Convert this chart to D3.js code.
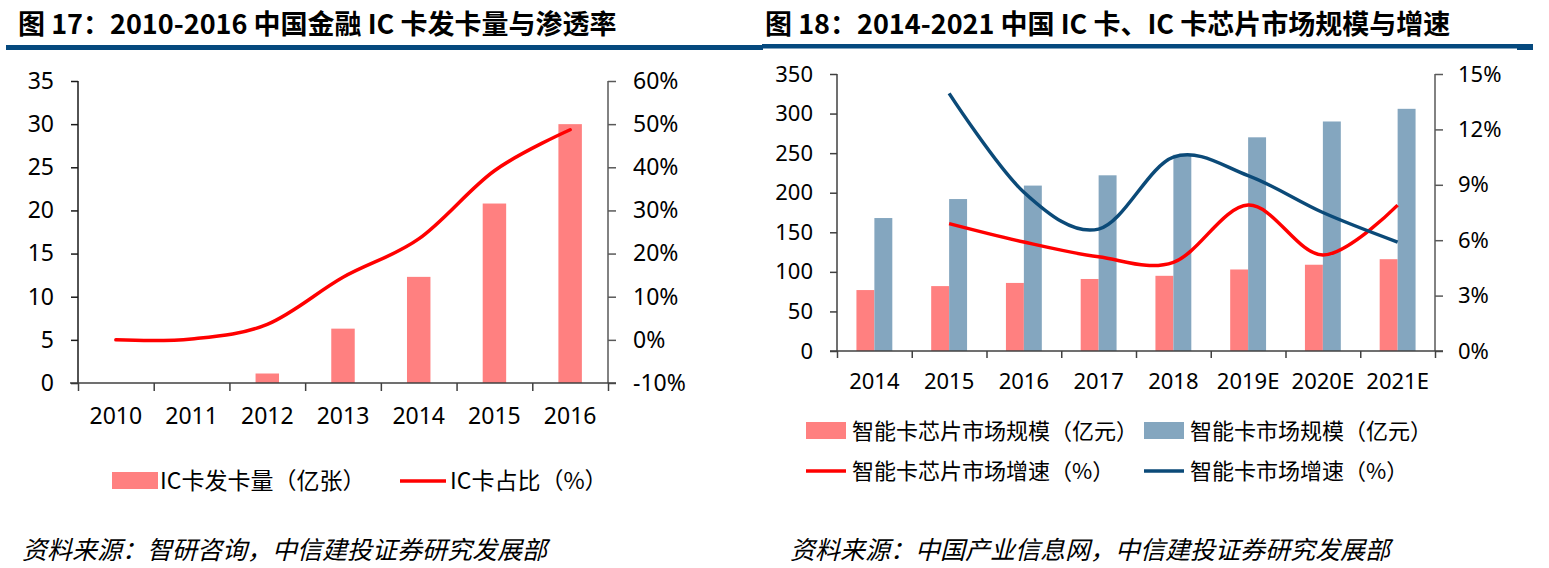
<!DOCTYPE html>
<html>
<head>
<meta charset="utf-8">
<script src="https://cdn.jsdelivr.net/npm/d3@7"></script>
<style>
  body { margin: 0; background: #fff; }
  text { font-family: "Noto Sans", "Noto Sans CJK SC", sans-serif; fill: #000; }
  .cjk { font-family: "Noto Sans CJK SC", sans-serif; }
</style>
</head>
<body>
<div id="chart"></div>
<script>
// Chart 17 data
const years1 = ["2010", "2011", "2012", "2013", "2014", "2015", "2016"];
const cardsIssued = [null, null, 1.1, 6.3, 12.3, 20.8, 30.0];   // 亿张
const icShare = [0, 0.2, 3.6, 14.5, 23.4, 39.2, 48.7];          // %

// Chart 18 data
const years2 = ["2014", "2015", "2016", "2017", "2018", "2019E", "2020E", "2021E"];
const chipMarket = [77, 82, 86, 91, 95, 103, 109, 116];          // 亿元
const cardMarket = [168, 192, 209, 222, 248, 270, 290, 306];     // 亿元
const chipGrowth = [null, 6.9, 5.9, 5.1, 4.8, 7.9, 5.2, 7.9];    // %
const cardGrowth = [null, 13.95, 8.6, 6.6, 10.5, 9.5, 7.5, 5.9]; // %

const leftTicks1 = [0, 5, 10, 15, 20, 25, 30, 35];
const rightTicks1 = [-10, 0, 10, 20, 30, 40, 50, 60];
const leftTicks2 = [0, 50, 100, 150, 200, 250, 300, 350];
const rightTicks2 = [0, 3, 6, 9, 12, 15];

const pink = "#ff8080";
const steel = "#84a6bf";
const red = "#ff0000";
const navy = "#0b4a78";
const ruleBlue = "#05497e";

const width = 1549;
const height = 568;

const svg = d3.select("#chart")
  .append("svg")
  .attr("width", width)
  .attr("height", height);

// Titles and rules
svg.append("text").attr("class", "cjk")
  .attr("x", 18).attr("y", 34)
  .style("font-size", "27px").style("font-weight", "bold")
  .text("图 17：2010-2016 中国金融 IC 卡发卡量与渗透率");
svg.append("text").attr("class", "cjk")
  .attr("x", 765).attr("y", 34)
  .style("font-size", "27px").style("font-weight", "bold")
  .text("图 18：2014-2021 中国 IC 卡、IC 卡芯片市场规模与增速");

svg.append("rect").attr("x", 6).attr("y", 45).attr("width", 757).attr("height", 5).attr("fill", ruleBlue);
svg.append("rect").attr("x", 762).attr("y", 44).attr("width", 771).attr("height", 4.5).attr("fill", ruleBlue);
svg.append("rect").attr("x", 1517).attr("y", 44).attr("width", 16).attr("height", 6).attr("fill", ruleBlue);

function styleAxis(g, color) {
  g.select(".domain").attr("stroke", color).attr("stroke-width", 1.5);
  g.selectAll(".tick line").attr("stroke", color).attr("stroke-width", 1.5);
  g.selectAll(".tick text").style("font-size", "22px").attr("fill", "#000");
}

// ---------- Chart 17 ----------
{
  const x0 = 78, x1 = 608, yTop = 81, yBot = 383;
  const x = d3.scaleBand().domain(years1).range([x0, x1]);
  const xi = d3.scaleLinear().domain([0, years1.length]).range([x0, x1]);
  const yL = d3.scaleLinear().domain([0, 35]).range([yBot, yTop]);
  const yR = d3.scaleLinear().domain([-10, 60]).range([yBot, yTop]);

  const g = svg.append("g");

  const barW = x.bandwidth() * 0.31;
  g.selectAll(".bar")
    .data(years1.map((y, i) => ({ y, v: cardsIssued[i] })).filter(d => d.v != null))
    .enter().append("rect")
    .attr("x", d => x(d.y) + (x.bandwidth() - barW) / 2)
    .attr("width", barW)
    .attr("y", d => yL(d.v))
    .attr("height", d => yBot - yL(d.v))
    .attr("fill", pink);

  const ax = g.append("g").attr("transform", `translate(${x0},0)`)
    .call(d3.axisLeft(yL).tickValues(leftTicks1).tickSize(7).tickPadding(17));
  styleAxis(ax, "#1a1a1a");
  ax.selectAll(".tick text").style("font-size", "23px");
  ax.select(".domain").attr("d", `M0,${yTop}V${yBot}`);

  const axR = g.append("g").attr("transform", `translate(${x1},0)`)
    .call(d3.axisRight(yR).tickValues(rightTicks1).tickSize(8).tickPadding(17).tickFormat(d => d + "%"));
  styleAxis(axR, "#595959");
  axR.selectAll(".tick text").style("font-size", "23px");
  axR.select(".domain").attr("d", `M0,${yTop}V${yBot}`);

  const axB = g.append("g").attr("transform", `translate(0,${yBot})`)
    .call(d3.axisBottom(xi).ticks(years1.length).tickSize(8).tickFormat(""));
  styleAxis(axB, "#404040");
  axB.select(".domain").attr("d", `M${x0 - 8},0H${x1 + 8}`);

  const axL = g.append("g").attr("transform", `translate(0,${yBot})`)
    .call(d3.axisBottom(x).tickSize(0).tickPadding(25));
  axL.select(".domain").remove();
  axL.selectAll(".tick text").style("font-size", "23px").attr("fill", "#000");

  const line = d3.line()
    .defined(d => d.v != null)
    .x(d => x(d.y) + x.bandwidth() / 2)
    .y(d => yR(d.v))
    .curve(d3.curveCardinal.tension(0));
  g.append("path")
    .datum(years1.map((y, i) => ({ y, v: icShare[i] })))
    .attr("d", line)
    .attr("fill", "none").attr("stroke", red)
    .attr("stroke-width", 3.5).attr("stroke-linecap", "round");

  // legend
  svg.append("rect").attr("x", 112).attr("y", 472).attr("width", 46).attr("height", 17).attr("fill", pink);
  svg.append("text").attr("class", "cjk").attr("x", 160).attr("y", 489).style("font-size", "23px").text("IC卡发卡量（亿张）");
  svg.append("line").attr("x1", 400).attr("x2", 446).attr("y1", 481).attr("y2", 481).attr("stroke", red).attr("stroke-width", 3.5);
  svg.append("text").attr("class", "cjk").attr("x", 450).attr("y", 489).style("font-size", "23px").text("IC卡占比（%）");

  svg.append("text").attr("class", "cjk").attr("x", 22).attr("y", 559)
    .style("font-size", "25px").style("font-style", "italic").attr("fill", "#333")
    .text("资料来源：智研咨询，中信建投证券研究发展部");
}

// ---------- Chart 18 ----------
{
  const x0 = 837, x1 = 1435, yTop = 74, yBot = 351;
  const x = d3.scaleBand().domain(years2).range([x0, x1]);
  const xi = d3.scaleLinear().domain([0, years2.length]).range([x0, x1]);
  const yL = d3.scaleLinear().domain([0, 350]).range([yBot, yTop]);
  const yR = d3.scaleLinear().domain([0, 15]).range([yBot, yTop]);

  const g = svg.append("g");

  const pairW = x.bandwidth() * 0.48;
  const inner = d3.scaleBand().domain(["chip", "card"]).range([0, pairW]);
  const off = (x.bandwidth() - pairW) / 2;

  g.selectAll(".chip")
    .data(years2.map((y, i) => ({ y, v: chipMarket[i] })))
    .enter().append("rect")
    .attr("x", d => x(d.y) + off + inner("chip"))
    .attr("width", inner.bandwidth())
    .attr("y", d => yL(d.v))
    .attr("height", d => yBot - yL(d.v))
    .attr("fill", pink);

  g.selectAll(".card")
    .data(years2.map((y, i) => ({ y, v: cardMarket[i] })))
    .enter().append("rect")
    .attr("x", d => x(d.y) + off + inner("card"))
    .attr("width", inner.bandwidth())
    .attr("y", d => yL(d.v))
    .attr("height", d => yBot - yL(d.v))
    .attr("fill", steel);

  const ax = g.append("g").attr("transform", `translate(${x0},0)`)
    .call(d3.axisLeft(yL).tickValues(leftTicks2).tickSize(7).tickPadding(17));
  styleAxis(ax, "#404040");
  ax.select(".domain").attr("d", `M0,${yTop}V${yBot}`);

  const axR = g.append("g").attr("transform", `translate(${x1},0)`)
    .call(d3.axisRight(yR).tickValues(rightTicks2).tickSize(8).tickPadding(15).tickFormat(d => d + "%"));
  styleAxis(axR, "#595959");
  axR.select(".domain").attr("d", `M0,${yTop}V${yBot}`);

  const axB = g.append("g").attr("transform", `translate(0,${yBot})`)
    .call(d3.axisBottom(xi).ticks(years2.length).tickSize(7).tickFormat(""));
  styleAxis(axB, "#404040");
  axB.select(".domain").attr("d", `M${x0 - 7},0H${x1 + 8}`);

  const axL = g.append("g").attr("transform", `translate(0,${yBot})`)
    .call(d3.axisBottom(x).tickSize(0).tickPadding(22));
  axL.select(".domain").remove();
  axL.selectAll(".tick text").style("font-size", "22px").attr("fill", "#000");

  const line = d3.line()
    .defined(d => d.v != null)
    .x(d => x(d.y) + x.bandwidth() / 2)
    .y(d => yR(d.v))
    .curve(d3.curveCardinal.tension(0));

  g.append("path")
    .datum(years2.map((y, i) => ({ y, v: chipGrowth[i] })))
    .attr("d", line)
    .attr("fill", "none").attr("stroke", red).attr("stroke-width", 3.5);

  g.append("path")
    .datum(years2.map((y, i) => ({ y, v: cardGrowth[i] })))
    .attr("d", line)
    .attr("fill", "none").attr("stroke", navy).attr("stroke-width", 3.5);

  // legend
  const lx = [806, 1144];
  svg.append("rect").attr("x", lx[0]).attr("y", 422).attr("width", 40).attr("height", 17).attr("fill", pink);
  svg.append("text").attr("class", "cjk").attr("x", lx[0] + 46).attr("y", 439).style("font-size", "22px").text("智能卡芯片市场规模（亿元）");
  svg.append("rect").attr("x", lx[1]).attr("y", 422).attr("width", 40).attr("height", 17).attr("fill", steel);
  svg.append("text").attr("class", "cjk").attr("x", lx[1] + 46).attr("y", 439).style("font-size", "22px").text("智能卡市场规模（亿元）");
  svg.append("line").attr("x1", lx[0]).attr("x2", lx[0] + 40).attr("y1", 471).attr("y2", 471).attr("stroke", red).attr("stroke-width", 3.5);
  svg.append("text").attr("class", "cjk").attr("x", lx[0] + 46).attr("y", 479).style("font-size", "22px").text("智能卡芯片市场增速（%）");
  svg.append("line").attr("x1", lx[1]).attr("x2", lx[1] + 40).attr("y1", 471).attr("y2", 471).attr("stroke", navy).attr("stroke-width", 3.5);
  svg.append("text").attr("class", "cjk").attr("x", lx[1] + 46).attr("y", 479).style("font-size", "22px").text("智能卡市场增速（%）");

  svg.append("text").attr("class", "cjk").attr("x", 790).attr("y", 559)
    .style("font-size", "25px").style("font-style", "italic").attr("fill", "#333")
    .text("资料来源：中国产业信息网，中信建投证券研究发展部");
}
</script>
</body>
</html>
